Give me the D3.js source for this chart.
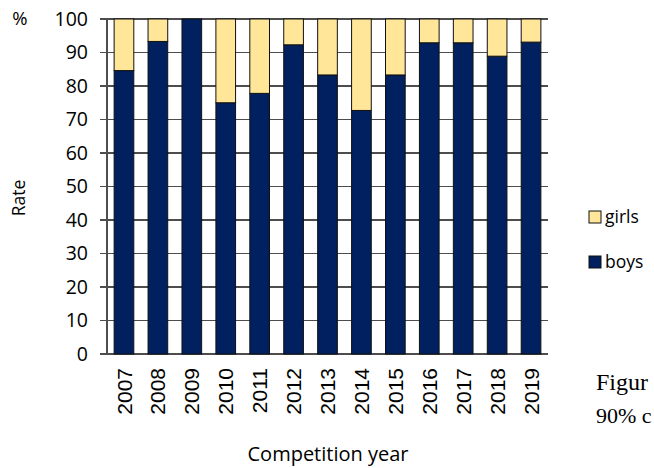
<!DOCTYPE html>
<html>
<head>
<meta charset="utf-8">
<script src="https://cdn.jsdelivr.net/npm/d3@7"></script>
<style>
html,body{margin:0;padding:0;background:#fff;overflow:hidden;}
svg{display:block;}
</style>
</head>
<body>
<svg id="chart" width="654" height="468"></svg>
<script>
const years = ["2007","2008","2009","2010","2011","2012","2013","2014","2015","2016","2017","2018","2019"];
const boys  = [84.6, 93.3, 100, 75.0, 77.8, 92.3, 83.3, 72.7, 83.3, 92.9, 92.9, 88.9, 93.1];
const girls = [15.4, 6.7, 0, 25.0, 22.2, 7.7, 16.7, 27.3, 16.7, 7.1, 7.1, 11.1, 6.9];
const yTicks = [0,10,20,30,40,50,60,70,80,90,100];
const seriesNames = ["boys","girls"];
const seriesColors = {boys:"#002060", girls:"#FFE699"};

(function(){
const svg = d3.select("#chart");
const sansFont = "'Open Sans', 'Noto Sans', sans-serif";
const pLeft = 107, pRight = 548, pTop = 19, pBottom = 354;

const x = d3.scaleBand().domain(years).range([pLeft, pRight]).paddingInner(0.42).paddingOuter(0.21);
const y = d3.scaleLinear().domain([0,100]).range([pBottom, pTop]);

// gridlines
svg.append("g").selectAll("line").data(yTicks).join("line")
  .attr("x1", pLeft - 7).attr("x2", pRight)
  .attr("y1", d => y(d)).attr("y2", d => y(d))
  .attr("stroke", "#4d4d4d").attr("stroke-width", 1.2)
  .attr("shape-rendering","crispEdges");

// y axis line
svg.append("line").attr("x1", pLeft).attr("x2", pLeft).attr("y1", pTop).attr("y2", pBottom)
  .attr("stroke", "#4d4d4d").attr("stroke-width", 1.2).attr("shape-rendering","crispEdges");

// stacked data
const rows = years.map((yr, i) => ({year: yr, boys: boys[i], girls: girls[i]}));
const stack = d3.stack().keys(seriesNames)(rows);

svg.append("g").selectAll("g").data(stack).join("g")
  .attr("fill", d => seriesColors[d.key])
  .selectAll("rect").data(d => d).join("rect")
  .attr("x", d => x(d.data.year))
  .attr("width", x.bandwidth())
  .attr("y", d => y(d[1]))
  .attr("height", d => y(d[0]) - y(d[1]))
  .attr("stroke", "#111").attr("stroke-width", 1);

// y tick labels
svg.append("g").selectAll("text").data(yTicks).join("text")
  .attr("x", 88).attr("y", d => y(d)).attr("dy", "0.35em")
  .attr("text-anchor", "end")
  .attr("font-family", sansFont).attr("font-size", 19.5).attr("fill", "#000")
  .text(d => d);

// x tick labels
svg.append("g").selectAll("text").data(years).join("text")
  .attr("transform", d => `translate(${x(d) + x.bandwidth()/2},368) rotate(-90)`)
  .attr("dy", "0.36em")
  .attr("text-anchor", "end")
  .attr("font-family", "'Liberation Sans', Arial, sans-serif").attr("font-size", 21).attr("fill", "#000")
  .text(d => d);

// % label
svg.append("text").attr("x", 20).attr("y", y(100)).attr("dy","0.35em").attr("text-anchor","middle")
  .attr("font-family", sansFont).attr("font-size", 18.5).text("%");

// Rate
svg.append("text").attr("transform", "translate(19,198) rotate(-90)")
  .attr("dy","0.35em").attr("text-anchor","middle")
  .attr("font-family", sansFont).attr("font-size", 17.5).text("Rate");

// x title
svg.append("text").attr("x", 328).attr("y", 461).attr("text-anchor","middle")
  .attr("font-family", sansFont).attr("font-size", 20).text("Competition year");

// legend
const legendItems = ["girls","boys"];
const lg = svg.append("g").selectAll("g").data(legendItems).join("g")
  .attr("transform", (d,i) => `translate(589,${211 + i*45})`);
lg.append("rect").attr("width", 12).attr("height", 12)
  .attr("fill", d => seriesColors[d]).attr("stroke", "#111").attr("stroke-width", 1);
lg.append("text").attr("x", 16).attr("y", 6).attr("dy","0.35em")
  .attr("font-family", sansFont).attr("font-size", 17.5).text(d => d);

// caption fragment (as visible at the page edge)
svg.append("text").attr("x", 596).attr("y", 390)
  .attr("font-family", "'Liberation Serif', serif").attr("font-size", 24).text("Figur");
svg.append("text").attr("x", 596).attr("y", 423)
  .attr("font-family", "'Liberation Serif', serif").attr("font-size", 22).text("90% c");
})();
</script>
</body>
</html>
